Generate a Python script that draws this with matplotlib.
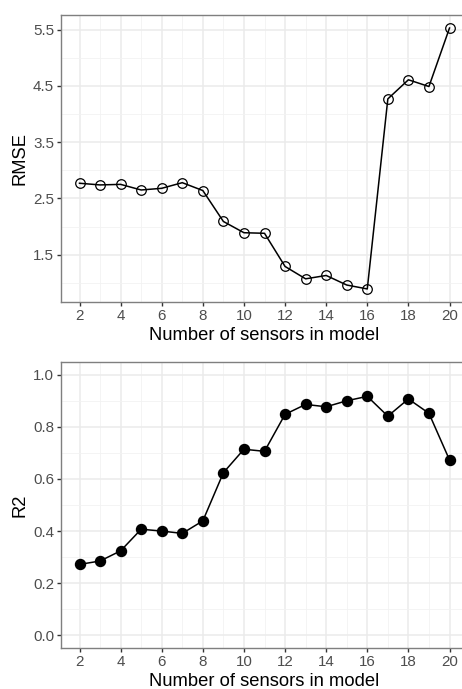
import numpy as np
import matplotlib.pyplot as plt
from matplotlib.ticker import MultipleLocator

plt.rcParams['font.family'] = ['Liberation Sans', 'DejaVu Sans']

# number of sensors in the model
n_sensors = list(range(2, 21))
rmse = [2.77, 2.74, 2.75, 2.65, 2.68, 2.78, 2.64, 2.09, 1.89, 1.88,
        1.29, 1.07, 1.13, 0.96, 0.89, 4.27, 4.61, 4.49, 5.53]
r2 = [0.272, 0.285, 0.324, 0.407, 0.400, 0.391, 0.439, 0.624, 0.714, 0.706,
      0.848, 0.886, 0.877, 0.900, 0.917, 0.841, 0.907, 0.852, 0.673]

x_ticks = [2, 4, 6, 8, 10, 12, 14, 16, 18, 20]
rmse_ticks = [1.5, 2.5, 3.5, 4.5, 5.5]
r2_ticks = [0.0, 0.2, 0.4, 0.6, 0.8, 1.0]

fig = plt.figure(figsize=(4.62, 6.89), dpi=100)
W, H = 462, 689


def panel(top, bottom):
    # pixel box -> figure fraction (right side runs past the image edge)
    left, right = 61, 468
    return [left / W, 1 - bottom / H, (right - left) / W, (bottom - top) / H]


def style(ax):
    ax.set_facecolor('white')
    for s in ax.spines.values():
        s.set_color('#7f7f7f')
        s.set_linewidth(1.0)
    ax.set_xlim(1.1, 20.9)
    ax.set_xticks(x_ticks)
    ax.xaxis.set_minor_locator(MultipleLocator(1))
    ax.grid(which='major', color='#EBEBEB', lw=1.1, zorder=0)
    ax.grid(which='minor', color='#F2F2F2', lw=0.6, zorder=0)
    ax.set_axisbelow(True)
    ax.tick_params(which='major', length=3, width=1, color='#333333',
                   labelsize=10.9, labelcolor='#4D4D4D', pad=2)
    ax.tick_params(which='minor', length=0)
    ax.set_xlabel('Number of sensors in model', fontsize=13.2, labelpad=3)


ax1 = fig.add_axes(panel(15, 302))
style(ax1)
ax1.plot(n_sensors, rmse, color='black', lw=1.1, marker='o', ms=6.9,
         mfc='none', mec='black', mew=0.9, zorder=3)
lo, hi = min(rmse), max(rmse)
pad = (hi - lo) * 0.05
ax1.set_ylim(lo - pad, hi + pad)
ax1.set_yticks(rmse_ticks)
ax1.set_yticklabels(['%.1f' % v for v in rmse_ticks])
ax1.yaxis.set_minor_locator(MultipleLocator(1.0))
ax1.set_ylabel('RMSE', fontsize=13.2, labelpad=3)

ax2 = fig.add_axes(panel(361.7, 648.3))
style(ax2)
ax2.plot(n_sensors, r2, color='black', lw=1.1, marker='o', ms=7.2,
         mfc='black', mec='black', zorder=3)
ax2.set_ylim(-0.05, 1.05)
ax2.set_yticks(r2_ticks)
ax2.set_yticklabels(['%.1f' % v for v in r2_ticks])
ax2.yaxis.set_minor_locator(MultipleLocator(0.1))
ax2.set_ylabel('R2', fontsize=13.2, labelpad=3)

fig.savefig('out.png', dpi=100)
